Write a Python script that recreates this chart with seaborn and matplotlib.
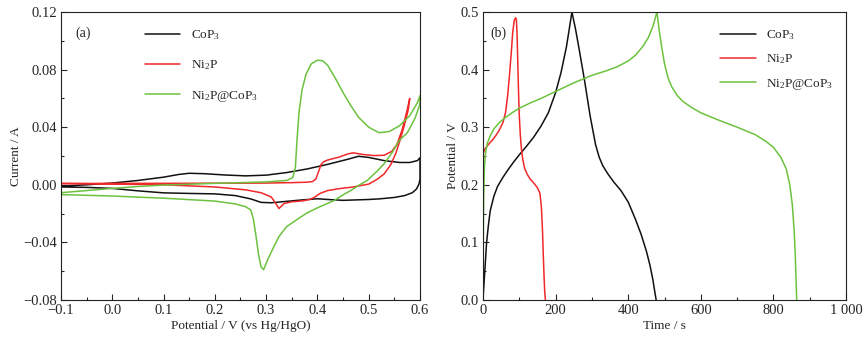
import numpy as np
import pandas as pd
import seaborn as sns
import matplotlib
matplotlib.use("Agg")
import matplotlib.pyplot as plt

# ---- (a) cyclic voltammetry, closed loops: forward branch then return branch ----
cop3_cv_x = [-0.1, -0.05, 0.0, 0.05, 0.1, 0.13, 0.15, 0.18, 0.22, 0.26, 0.3, 0.34, 0.38, 0.42,
             0.46, 0.48, 0.5, 0.53, 0.56, 0.58, 0.595, 0.6,
             0.6, 0.6, 0.598, 0.593, 0.585, 0.57, 0.55, 0.52, 0.5, 0.45, 0.42, 0.4, 0.37, 0.34,
             0.31, 0.29, 0.27, 0.24, 0.2, 0.15, 0.1, 0.05, 0.0, -0.05, -0.1]
cop3_cv_y = [-0.001, 0.0, 0.0012, 0.003, 0.0053, 0.0072, 0.008, 0.0077, 0.0068, 0.0062, 0.0067,
             0.0085, 0.011, 0.0142, 0.0178, 0.0198, 0.019, 0.0168, 0.0155, 0.0155, 0.0168, 0.0188,
             0.012, 0.004, 0.0005, -0.003, -0.0055, -0.0075, -0.0088, -0.0098, -0.0102, -0.0108,
             -0.0102, -0.0097, -0.0105, -0.0115, -0.0125, -0.0122, -0.0098, -0.0075, -0.0063,
             -0.006, -0.0056, -0.0042, -0.0025, -0.0018, -0.0015]

ni2p_cv_x = [-0.1, 0.0, 0.1, 0.2, 0.3, 0.35, 0.38, 0.39, 0.397, 0.402, 0.407, 0.412, 0.42, 0.44,
             0.46, 0.47, 0.49, 0.51, 0.53, 0.545, 0.555, 0.565, 0.575, 0.58,
             0.577, 0.57, 0.562, 0.553, 0.543, 0.53, 0.515, 0.5, 0.47, 0.44, 0.42, 0.405, 0.395,
             0.385, 0.37, 0.35, 0.335, 0.325, 0.318, 0.31, 0.29, 0.26, 0.2, 0.1, 0.0, -0.1]
ni2p_cv_y = [0.0008, 0.001, 0.001, 0.0011, 0.0012, 0.0015, 0.0018, 0.0022, 0.004, 0.009, 0.014,
             0.016, 0.0172, 0.019, 0.0215, 0.0222, 0.021, 0.0203, 0.0205, 0.0232, 0.028, 0.038,
             0.052, 0.06,
             0.052, 0.042, 0.032, 0.022, 0.014, 0.0075, 0.0035, 0.0005, -0.0015, -0.0028, -0.004,
             -0.006, -0.0085, -0.0102, -0.0112, -0.0118, -0.013, -0.0165, -0.0125, -0.0085,
             -0.0055, -0.0035, -0.0015, 0.0, 0.0005, 0.001]

nicop_cv_x = [-0.1, -0.05, 0.0, 0.05, 0.1, 0.2, 0.3, 0.34, 0.352, 0.357, 0.36, 0.364, 0.37,
              0.378, 0.388, 0.4, 0.41, 0.42, 0.435, 0.45, 0.465, 0.48, 0.5, 0.52, 0.54, 0.56, 0.58,
              0.595, 0.6,
              0.6, 0.59, 0.575, 0.56, 0.545, 0.53, 0.515, 0.497, 0.48, 0.465, 0.45, 0.432, 0.4,
              0.38, 0.367, 0.34, 0.325, 0.315, 0.303, 0.295, 0.29, 0.285, 0.28, 0.275, 0.27, 0.26,
              0.24, 0.2, 0.15, 0.1, 0.0, -0.1]
nicop_cv_y = [-0.0055, -0.004, -0.0025, -0.0012, -0.0002, 0.001, 0.002, 0.003, 0.005, 0.012,
              0.03, 0.05, 0.066, 0.077, 0.084, 0.0865, 0.0862, 0.083, 0.074, 0.064, 0.055, 0.047,
              0.04, 0.0362, 0.037, 0.041, 0.048, 0.057, 0.062,
              0.056, 0.046, 0.036, 0.031, 0.022, 0.0146, 0.009, 0.003, -0.0005, -0.004, -0.007,
              -0.011, -0.016, -0.0195, -0.0225, -0.029, -0.036, -0.043, -0.052, -0.059, -0.057,
              -0.048, -0.035, -0.0235, -0.0175, -0.0152, -0.0133, -0.0113, -0.0103, -0.0093,
              -0.0078, -0.0068]

# ---- (b) galvanostatic charge / discharge ----
cop3_gcd_t = [0, 3, 6, 10, 15, 20, 30, 40, 55, 70, 85, 100, 120, 140, 160, 180, 200, 215, 230,
              245, 255, 265, 280, 295, 310, 320, 330, 345, 360, 380, 400, 420, 435, 450, 460,
              468, 473, 477]
cop3_gcd_v = [0.0, 0.03, 0.06, 0.1, 0.13, 0.155, 0.18, 0.197, 0.213, 0.227, 0.24, 0.252, 0.267,
              0.283, 0.302, 0.325, 0.36, 0.395, 0.44, 0.5, 0.47, 0.435, 0.38, 0.32, 0.27, 0.248,
              0.233, 0.218, 0.205, 0.19, 0.17, 0.14, 0.115, 0.085, 0.06, 0.035, 0.015, 0.0]

ni2p_gcd_t = [0, 0.5, 1, 5, 15, 25, 35, 45, 55, 62, 68, 73, 78, 82, 86, 90, 92, 94, 96, 98, 100,
              103, 106, 110, 115, 122, 130, 140, 150, 157, 161, 164, 166, 168, 170, 172]
ni2p_gcd_v = [0.0, 0.15, 0.255, 0.262, 0.27, 0.277, 0.285, 0.295, 0.308, 0.325, 0.355, 0.39,
              0.43, 0.465, 0.485, 0.49, 0.487, 0.46, 0.41, 0.36, 0.32, 0.285, 0.262, 0.243,
              0.228, 0.218, 0.21, 0.203, 0.195, 0.185, 0.16, 0.12, 0.08, 0.045, 0.015, 0.0]

nicop_gcd_t = [0, 1, 2, 4, 7, 12, 20, 30, 45, 60, 80, 100, 130, 160, 200, 250, 300, 340, 370,
               400, 420, 440, 455, 468, 479, 485, 492, 500, 510, 520, 535, 550, 575, 600, 650,
               700, 750, 780, 800, 820, 835, 845, 852, 857, 860, 862, 864]
nicop_gcd_v = [0.0, 0.1, 0.18, 0.23, 0.255, 0.272, 0.285, 0.297, 0.308, 0.316, 0.325, 0.333,
               0.342, 0.35, 0.362, 0.377, 0.39, 0.398, 0.405, 0.415, 0.425, 0.44, 0.455, 0.475,
               0.5, 0.47, 0.44, 0.41, 0.385, 0.37, 0.355, 0.345, 0.334, 0.325, 0.312, 0.3,
               0.287, 0.275, 0.265, 0.248, 0.228, 0.2, 0.165, 0.12, 0.08, 0.04, 0.0]

labels = ["CoP$_3$", "Ni$_2$P", "Ni$_2$P@CoP$_3$"]
colors = ["#111111", "#f0282a", "#6cc23e"]

sns.set_style("ticks")
plt.rcParams["font.family"] = ["Liberation Serif", "DejaVu Serif"]
plt.rcParams["mathtext.fontset"] = "custom"
plt.rcParams["mathtext.rm"] = "Liberation Serif"
plt.rcParams["mathtext.it"] = "Liberation Serif"
plt.rcParams["font.size"] = 9.5
plt.rcParams["axes.unicode_minus"] = True

fig = plt.figure(figsize=(8.66, 3.43), dpi=100)
ax1 = fig.add_axes([0.0704, 0.1254, 0.4146, 0.8396])
ax2 = fig.add_axes([0.5577, 0.1254, 0.4193, 0.8396])

cv = [(cop3_cv_x, cop3_cv_y), (ni2p_cv_x, ni2p_cv_y), (nicop_cv_x, nicop_cv_y)]
gcd = [(cop3_gcd_t, cop3_gcd_v), (ni2p_gcd_t, ni2p_gcd_v), (nicop_gcd_t, nicop_gcd_v)]

for (x, y), lab, c in zip(cv, labels, colors):
    sns.lineplot(x=x, y=y, sort=False, estimator=None, ax=ax1, color=c, lw=1.1, label=lab)
for (x, y), lab, c in zip(gcd, labels, colors):
    sns.lineplot(x=x, y=y, sort=False, estimator=None, ax=ax2, color=c, lw=1.1, label=lab)

# panel (a)
ax1.set_xlim(-0.1, 0.6)
ax1.set_ylim(-0.08, 0.12)
ax1.set_xticks(np.arange(-0.1, 0.61, 0.1))
ax1.set_xticklabels(["\u22120.1", "0.0", "0.1", "0.2", "0.3", "0.4", "0.5", "0.6"])
ax1.set_xticks(np.arange(-0.05, 0.6, 0.1), minor=True)
ax1.set_yticks([-0.08, -0.04, 0.0, 0.04, 0.08, 0.12])
ax1.set_yticklabels(["\u22120.08", "\u22120.04", "0.00", "0.04", "0.08", "0.12"])
ax1.set_yticks([-0.06, -0.02, 0.02, 0.06, 0.10], minor=True)
ax1.set_xlabel("Potential / V (vs Hg/HgO)", labelpad=2)
ax1.set_ylabel("Current / A", labelpad=1)
ax1.text(0.04, 0.915, "(a)", transform=ax1.transAxes, fontsize=10)
ax1.legend(loc="upper left", bbox_to_anchor=(0.2, 0.985), frameon=False,
           handlelength=2.7, labelspacing=1.25, fontsize=9.5)

# panel (b)
ax2.set_xlim(0, 1000)
ax2.set_ylim(0, 0.5)
ax2.set_xticks([0, 200, 400, 600, 800, 1000])
ax2.set_xticklabels(["0", "200", "400", "600", "800", "1 000"])
ax2.set_xticks([100, 300, 500, 700, 900], minor=True)
ax2.set_yticks([0.0, 0.1, 0.2, 0.3, 0.4, 0.5])
ax2.set_yticklabels(["0.0", "0.1", "0.2", "0.3", "0.4", "0.5"])
ax2.set_yticks([0.05, 0.15, 0.25, 0.35, 0.45], minor=True)
ax2.set_xlabel("Time / s", labelpad=2)
ax2.set_ylabel("Potential / V", labelpad=1)
ax2.text(0.02, 0.915, "(b)", transform=ax2.transAxes, fontsize=10)
ax2.legend(loc="upper left", bbox_to_anchor=(0.62, 0.985), frameon=False,
           handlelength=2.7, labelspacing=0.8, fontsize=9.5)

for ax in (ax1, ax2):
    ax.tick_params(direction="in", which="major", length=4, width=0.8, labelsize=10.5, pad=3)
    ax.tick_params(direction="in", which="minor", length=2.5, width=0.8)
    for s in ax.spines.values():
        s.set_linewidth(0.8)
        s.set_color("#222222")

fig.savefig("out.png", dpi=100)
